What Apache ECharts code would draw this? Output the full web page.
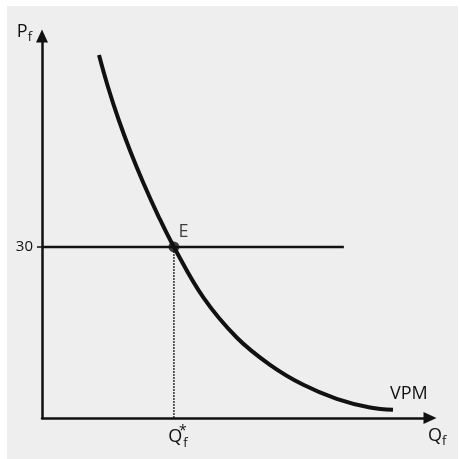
<!DOCTYPE html>
<html>
<head>
<meta charset="utf-8">
<script src="https://cdn.jsdelivr.net/npm/echarts@6/dist/echarts.min.js"></script>
<style>
  html, body { margin: 0; padding: 0; background: #ffffff; }
  #wrap { position: absolute; left: 7px; top: 6px; width: 451px; height: 453px; }
</style>
</head>
<body>
<div id="wrap"></div>
<script>
// Demand for a factor: value of the marginal product (VPM) against factor price
const vpmCurve = [
  [14.69, 63.67], [17.01, 58.06], [19.69, 52.44], [22.73, 46.83], [26.13, 41.22],
  [29.87, 35.6], [34.0, 30.0], [41.57, 21.15], [50.18, 14.12], [58.76, 9.33],
  [67.35, 5.82], [75.95, 3.37], [84.54, 1.84], [90.46, 1.44]
];
const factorPrice = 30;          // P_f
const priceLineEnd = 77.8;       // right end of the price line
const equilibriumQty = 34;       // Q_f*
const yTicks = [30];
const xTicks = [equilibriumQty];

const ink = '#111111';
const font = 'Open Sans';

const chart = echarts.init(document.getElementById('wrap'), null, { renderer: 'canvas' });

chart.setOption({
  backgroundColor: '#eeeeee',
  animation: false,
  textStyle: { fontFamily: font, color: ink },
  grid: { left: 35, top: 30, right: 28, bottom: 41 },
  xAxis: {
    type: 'value', min: 0, max: 100,
    splitLine: { show: false },
    axisLine: {
      onZero: false,
      lineStyle: { color: ink, width: 2.5 },
      symbol: ['none', 'triangle'], symbolSize: [12, 13]
    },
    axisTick: { show: false },
    axisLabel: {
      customValues: xTicks,
      margin: 6,
      padding: [0, 0, 0, 8],
      formatter: () => '{q|Q}{sup|*}{sub|f}',
      rich: {
        q: { fontFamily: font, fontSize: 18, color: ink, lineHeight: 26, verticalAlign: 'middle' },
        sup: { fontFamily: font, fontSize: 14, color: ink, width: 1, lineHeight: 14, verticalAlign: 'top' },
        sub: { fontFamily: font, fontSize: 13, color: ink, lineHeight: 13, verticalAlign: 'bottom' }
      }
    },
    name: '{q|Q}{sub|f}',
    nameLocation: 'end',
    nameGap: -2,
    nameTextStyle: {
      align: 'left', verticalAlign: 'top', padding: [6, 0, 0, 0],
      rich: {
        q: { fontFamily: font, fontSize: 18, color: ink, lineHeight: 24, verticalAlign: 'middle' },
        sub: { fontFamily: font, fontSize: 13, color: ink, lineHeight: 13, verticalAlign: 'bottom' }
      }
    }
  },
  yAxis: {
    type: 'value', min: 0, max: 67,
    splitLine: { show: false },
    axisLine: {
      onZero: false,
      lineStyle: { color: ink, width: 2.5 },
      symbol: ['none', 'triangle'], symbolSize: [12, 13]
    },
    axisTick: { customValues: yTicks, length: 5, lineStyle: { color: ink, width: 1.5 } },
    axisLabel: { customValues: yTicks, margin: 9, fontSize: 15, color: ink, fontFamily: font },
    name: '{p|P}{sub|f}',
    nameLocation: 'end',
    nameGap: 4,
    nameTextStyle: {
      align: 'right', verticalAlign: 'middle', padding: [0, 10, 0, 0],
      rich: {
        p: { fontFamily: font, fontSize: 18, color: ink, lineHeight: 24, verticalAlign: 'middle' },
        sub: { fontFamily: font, fontSize: 13, color: ink, lineHeight: 13, verticalAlign: 'bottom' }
      }
    }
  },
  series: [
    {
      name: 'price',
      type: 'line',
      data: [[0, factorPrice], [priceLineEnd, factorPrice]],
      showSymbol: false,
      lineStyle: { color: ink, width: 2.5 },
      z: 3
    },
    {
      name: 'drop',
      type: 'line',
      data: [[equilibriumQty, 0], [equilibriumQty, factorPrice]],
      showSymbol: false,
      lineStyle: { color: ink, width: 1.3, type: [2, 1] },
      z: 2
    },
    {
      name: 'VPM',
      type: 'line',
      data: vpmCurve,
      smooth: 0.4,
      showSymbol: false,
      lineStyle: { color: ink, width: 4 },
      endLabel: {
        show: true, formatter: 'VPM', fontSize: 18, fontFamily: font, color: ink,
        offset: [-11, -16]
      },
      z: 4
    },
    {
      name: 'E',
      type: 'scatter',
      data: [[equilibriumQty, factorPrice]],
      symbolSize: 11,
      itemStyle: { color: ink },
      label: {
        show: true, formatter: 'E', position: [10, -19],
        fontSize: 18, fontFamily: font, color: ink
      },
      z: 5
    }
  ]
});
</script>
</body>
</html>
